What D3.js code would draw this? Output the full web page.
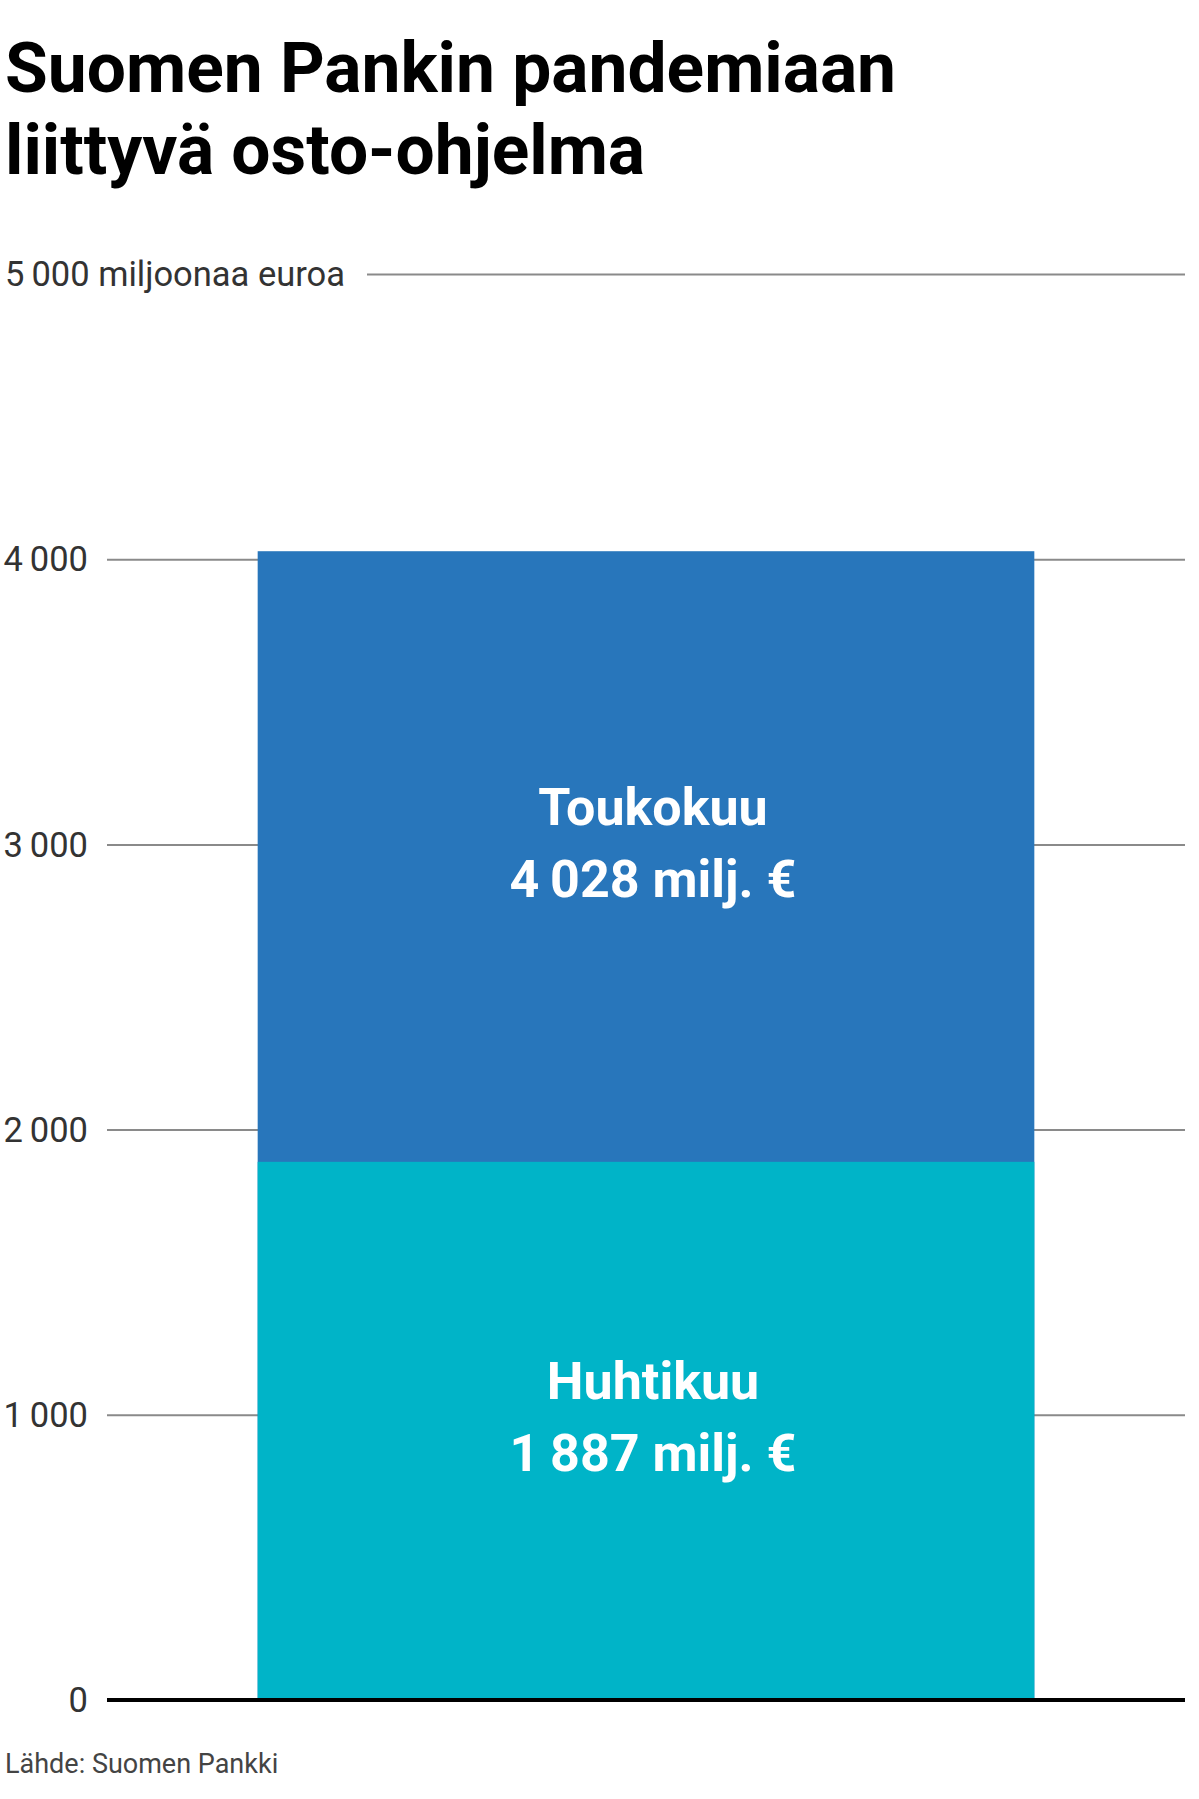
<!DOCTYPE html>
<html>
<head>
<meta charset="utf-8">
<script src="https://cdn.jsdelivr.net/npm/d3@7"></script>
<style>
  body { margin: 0; background: #fff; }
  svg { display: block; font-family: Roboto, "Noto Sans", sans-serif; }
</style>
</head>
<body>
<div class="chart"></div>
<script>
// data (cumulative purchases, million euros)
const months = ["Huhtikuu", "Toukokuu"];
const cumulative = [1887, 4028];
const yTicks = [0, 1000, 2000, 3000, 4000, 5000];
const titleLines = ["Suomen Pankin pandemiaan", "liittyvä osto-ohjelma"];
const unitLabel = "miljoonaa euroa";
const source = "Lähde: Suomen Pankki";

var width = 1199,
    height = 1799;
var plot = { left: 107, right: 1185, top: 274, bottom: 1700 };

var fi = d3.formatLocale({ decimal: ",", thousands: "\u2009", grouping: [3], currency: ["", ""] });
var fmt = fi.format(",d");

var svg = d3.select(".chart").append("svg")
    .attr("width", width)
    .attr("height", height);

// title
svg.append("text")
    .attr("x", 5)
    .attr("y", 92)
    .attr("font-size", 69.5)
    .attr("font-weight", 700)
    .attr("fill", "#000")
    .selectAll("tspan")
    .data(titleLines)
    .enter().append("tspan")
    .attr("x", 5)
    .attr("dy", function (d, i) { return i == 0 ? 0 : 82; })
    .text(function (d) { return d; });

// scales
var y = d3.scaleLinear()
    .domain([0, 5000])
    .range([plot.bottom, plot.top]);

var x = d3.scaleBand()
    .domain(["ohjelma"])
    .range([plot.left, plot.right])
    .paddingInner(0)
    .paddingOuter(0.194);

var color = d3.scaleOrdinal()
    .domain(months)
    .range(["#00b4c8", "#2876bb"]);

// y axis with gridlines
var axis = svg.append("g")
    .attr("transform", "translate(" + plot.right + ",0)")
    .call(d3.axisLeft(y)
        .tickValues(yTicks)
        .tickSizeInner(plot.right - plot.left)
        .tickSizeOuter(0)
        .tickPadding(19)
        .tickFormat(function (d) { return fmt(d); }));

axis.select(".domain").remove();
axis.selectAll(".tick line")
    .attr("stroke", "#8a8a8a")
    .attr("stroke-width", 2);
axis.selectAll(".tick text")
    .attr("font-size", 34.5)
    .attr("font-family", "Roboto, sans-serif")
    .attr("fill", "#333")
    .attr("dy", "0.34em");

// top tick carries the unit
var topTick = axis.selectAll(".tick").filter(function (d) { return d == 5000; });
topTick.select("text")
    .attr("text-anchor", "start")
    .attr("x", 5 - plot.right)
    .text(fmt(5000) + " " + unitLabel);
topTick.select("line")
    .attr("x2", 367 - plot.right);

// bars, largest first so the smaller one sits on top
var order = d3.range(months.length).sort(function (a, b) { return cumulative[b] - cumulative[a]; });

svg.selectAll("rect.bar")
    .data(order)
    .enter().append("rect")
    .attr("class", "bar")
    .attr("x", x("ohjelma"))
    .attr("width", x.bandwidth())
    .attr("y", function (i) { return y(cumulative[i]); })
    .attr("height", function (i) { return y(0) - y(cumulative[i]); })
    .attr("fill", function (i) { return color(months[i]); });

// labels inside each segment
var labelX = x("ohjelma") + x.bandwidth() / 2 + 7;
var labels = svg.selectAll("text.seg")
    .data(months.map(function (m, i) {
        var lo = i == 0 ? 0 : cumulative[i - 1];
        return { name: m, value: cumulative[i], mid: (y(lo) + y(cumulative[i])) / 2 };
    }))
    .enter().append("text")
    .attr("class", "seg")
    .attr("text-anchor", "middle")
    .attr("font-size", 52)
    .attr("font-weight", 700)
    .attr("fill", "#fff");

labels.append("tspan")
    .attr("x", labelX)
    .attr("y", function (d) { return d.mid - 32; })
    .text(function (d) { return d.name; });

labels.append("tspan")
    .attr("x", labelX)
    .attr("y", function (d) { return d.mid + 40; })
    .text(function (d) { return fmt(d.value) + " milj. €"; });

// baseline on top
svg.append("line")
    .attr("x1", plot.left)
    .attr("x2", plot.right)
    .attr("y1", y(0))
    .attr("y2", y(0))
    .attr("stroke", "#000")
    .attr("stroke-width", 4);

// source
svg.append("text")
    .attr("x", 5)
    .attr("y", 1773)
    .attr("font-size", 27)
    .attr("fill", "#444")
    .text(source);
</script>
</body>
</html>
